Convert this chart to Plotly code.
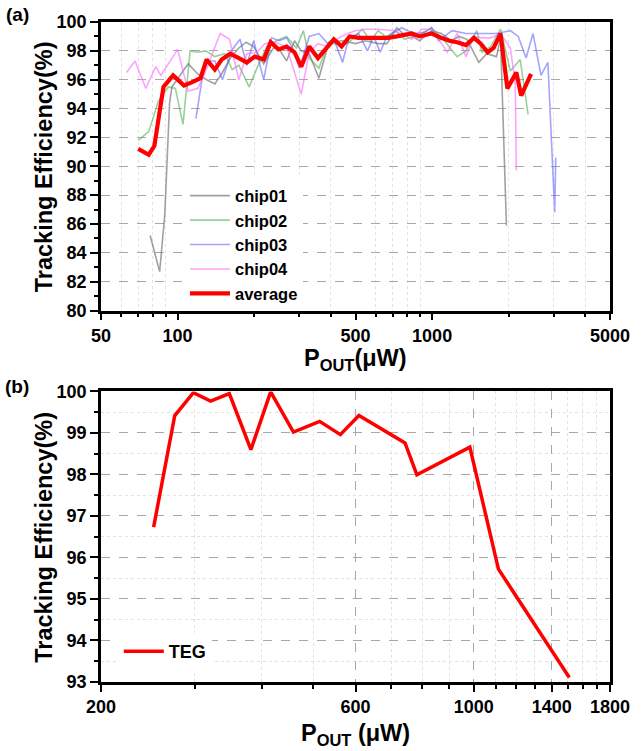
import math
import plotly.graph_objects as go

# ---------------- data: panel (a) ----------------
AVG_X = [70, 77, 81, 88, 96, 106, 113, 123, 130, 140, 149, 161, 174, 187, 201, 218, 232, 249, 268, 288,
         306, 329, 356, 379, 411, 441, 474, 514, 561, 614, 671, 727, 767, 832, 893, 995, 1087, 1168, 1254,
         1359, 1459, 1553, 1653, 1744, 1857, 1976, 2142, 2239, 2448]
AVG_Y = [91.2, 90.8, 91.4, 95.5, 96.3, 95.6, 95.8, 96.1, 97.4, 96.7, 97.4, 97.8, 97.5, 97.2, 97.6, 97.4,
         98.6, 98.1, 98.3, 97.9, 96.9, 98.3, 97.5, 98.1, 98.8, 98.3, 99.0, 98.9, 98.9, 98.9, 98.9, 99.0,
         99.1, 99.2, 99.0, 99.2, 98.9, 98.7, 98.6, 98.4, 98.9, 98.5, 97.9, 98.2, 99.2, 95.4, 96.5, 94.9, 96.4]

C1_X = [78, 85, 89, 93, 95, 110, 120, 130, 140, 150, 161, 174, 186, 199, 218, 238, 249, 268, 288, 306,
        329, 359, 393, 445, 500, 547, 614, 665, 727, 767, 802, 893, 995, 1087, 1189, 1276, 1371, 1526,
        1639, 1791, 1857, 1959]
C1_Y = [85.2, 82.7, 86.6, 94.4, 95.5, 97.1, 96.4, 96.0, 95.7, 96.5, 97.5, 98.2, 98.6, 98.3, 97.1, 98.2,
        98.2, 97.3, 98.7, 98.0, 97.8, 96.1, 98.6, 98.7, 98.5, 98.7, 98.5, 98.5, 99.6, 99.2, 99.2, 98.7,
        99.4, 99.2, 98.7, 99.0, 98.8, 97.2, 97.8, 97.6, 98.9, 85.9]

C2_X = [70, 77, 84, 92, 98, 105, 112, 120, 129, 140, 153, 164, 174, 191, 205, 224, 245, 268, 293, 312,
        329, 359, 389, 430, 466, 532, 572, 614, 665, 714, 781, 909, 995, 1117, 1254, 1359, 1499, 1568,
        1698, 1857, 2030, 2219, 2383]
C2_Y = [91.8, 92.4, 94.5, 95.5, 95.4, 92.9, 98.0, 97.9, 98.0, 97.6, 97.8, 96.7, 97.0, 95.5, 96.8, 98.3,
        98.7, 99.0, 98.2, 99.4, 97.5, 96.8, 98.5, 98.5, 98.5, 99.5, 98.7, 99.4, 98.9, 99.4, 98.8, 99.2,
        99.6, 98.7, 97.6, 98.0, 99.4, 97.9, 98.3, 99.5, 96.6, 97.4, 93.6]

C3_X = [118, 128, 140, 150, 164, 176, 187, 199, 218, 234, 251, 268, 285, 301, 329, 359, 389, 411, 445,
        470, 514, 557, 590, 625, 665, 696, 760, 802, 860, 940, 995, 1060, 1199, 1359, 1596, 1791, 2030,
        2180, 2341, 2492, 2678, 2850, 3033, 3060]
C3_Y = [93.3, 97.3, 97.3, 96.0, 98.1, 98.8, 97.0, 98.7, 96.0, 98.9, 98.7, 98.9, 98.1, 96.8, 99.0, 99.2,
        98.5, 98.8, 97.2, 98.9, 99.2, 98.0, 99.0, 97.9, 99.0, 99.2, 99.6, 99.4, 99.2, 99.3, 99.6, 98.7,
        99.4, 99.2, 99.2, 99.2, 99.4, 99.0, 97.5, 99.2, 96.3, 97.2, 86.8, 90.6]

C4_X = [63, 68, 75, 82, 86, 100, 110, 120, 129, 147, 160, 174, 187, 205, 220, 241, 268, 285, 306, 329,
        356, 389, 430, 466, 500, 547, 614, 714, 832, 909, 1000, 1147, 1254, 1359, 1459, 1568, 1698, 1857,
        2030, 2122, 2142]
C4_Y = [96.5, 97.3, 95.4, 96.9, 96.3, 98.1, 95.2, 95.4, 96.6, 99.2, 98.8, 96.0, 97.8, 97.9, 98.5, 98.6,
        98.3, 96.7, 95.0, 97.9, 98.5, 98.3, 98.9, 99.2, 99.4, 99.5, 99.5, 99.4, 98.8, 99.5, 99.5, 97.9,
        99.2, 97.6, 99.0, 98.9, 98.9, 99.2, 98.2, 95.7, 89.7]

# ---------------- data: panel (b) ----------------
TEG_X = [251, 275, 298, 321, 348, 382, 416, 459, 514, 562, 609, 743, 782, 841, 983, 1112, 1510]
TEG_Y = [96.73, 99.42, 99.97, 99.77, 99.95, 98.60, 99.99, 99.02, 99.28, 98.96, 99.42, 98.76, 97.99,
         98.21, 98.66, 95.72, 93.11]

# ---------------- ticks ----------------
XA_TICKS = [50, 100, 500, 1000, 5000]
XA_MAJOR_GRID = [100, 1000]
XA_MINOR = [60, 70, 80, 90, 200, 300, 400, 600, 700, 800, 900, 2000, 3000, 4000]
XB_TICKS = [200, 600, 1000, 1400, 1800]
XB_MINOR = [300, 400, 500, 700, 800, 900, 1100, 1200, 1300, 1500, 1600, 1700]

FONT = "Liberation Sans, Arial, sans-serif"
TICKFONT = dict(family=FONT, size=18, color="black", weight="bold")

fig = go.Figure()

series = [
    ("chip01", C1_X, C1_Y, "rgba(110,110,110,0.65)"),
    ("chip02", C2_X, C2_Y, "rgba(70,170,70,0.55)"),
    ("chip03", C3_X, C3_Y, "rgba(90,90,255,0.55)"),
    ("chip04", C4_X, C4_Y, "rgba(255,100,255,0.6)"),
]
for name, xs, ys, col in series:
    fig.add_trace(go.Scatter(x=xs, y=ys, mode="lines", name=name, xaxis="x", yaxis="y",
                             line=dict(color=col, width=1.6), legend="legend"))
fig.add_trace(go.Scatter(x=AVG_X, y=AVG_Y, mode="lines", name="average", xaxis="x", yaxis="y",
                         line=dict(color="#ff0000", width=4.2), legend="legend"))
fig.add_trace(go.Scatter(x=TEG_X, y=TEG_Y, mode="lines", name="TEG", xaxis="x2", yaxis="y2",
                         line=dict(color="#ff0000", width=3.5), legend="legend2"))

TOP_DOM = [0.5628, 1.0]
BOT_DOM = [0.0, 0.4402]

axis_common = dict(showline=True, linewidth=2.5, linecolor="black", mirror=True,
                   ticks="outside", tickwidth=2, tickcolor="black", zeroline=False,
                   tickfont=TICKFONT)

fig.update_layout(
    width=642, height=751,
    margin=dict(l=101, r=25, t=21, b=69),
    paper_bgcolor="white", plot_bgcolor="white",
    showlegend=True,
    xaxis=dict(domain=[0, 1], anchor="y", type="log",
               range=[math.log10(50), math.log10(5000)],
               tickmode="array", tickvals=XA_TICKS, ticktext=[str(v) for v in XA_TICKS],
               ticklen=7, showgrid=False,
               minor=dict(tickmode="array", tickvals=XA_MINOR, ticks="outside", ticklen=4,
                          tickwidth=1.5, tickcolor="black", showgrid=True,
                          gridcolor="#e2e2e2", griddash="dot", gridwidth=1),
               **axis_common),
    xaxis3=dict(overlaying="x", anchor="y", type="log",
                range=[math.log10(50), math.log10(5000)],
                tickmode="array", tickvals=XA_MAJOR_GRID, showticklabels=False,
                ticks="outside", ticklen=8, tickwidth=2, tickcolor="black",
                showgrid=True, gridcolor="#a8a8a8", griddash="dash", gridwidth=1,
                showline=False, zeroline=False),
    yaxis=dict(domain=TOP_DOM, anchor="x", range=[80, 100], tickmode="linear", tick0=80, dtick=2,
               ticklen=8, showgrid=True, gridcolor="#a8a8a8", griddash="dash", gridwidth=1,
               minor=dict(dtick=1, ticks="outside", ticklen=4, tickwidth=1.5, tickcolor="black",
                          showgrid=False),
               **axis_common),
    xaxis2=dict(domain=[0, 1], anchor="y2", type="log",
                range=[math.log10(200), math.log10(1800)],
                tickmode="array", tickvals=XB_TICKS, ticktext=[str(v) for v in XB_TICKS],
                ticklen=7, showgrid=True, gridcolor="#a8a8a8", griddash="dash", gridwidth=1,
                minor=dict(tickmode="array", tickvals=XB_MINOR, ticks="outside", ticklen=4,
                           tickwidth=1.5, tickcolor="black", showgrid=True,
                           gridcolor="#e2e2e2", griddash="dot", gridwidth=1),
                **axis_common),
    yaxis2=dict(domain=BOT_DOM, anchor="x2", range=[93, 100], tickmode="linear", tick0=93, dtick=1,
                ticklen=8, showgrid=True, gridcolor="#a8a8a8", griddash="dash", gridwidth=1,
                minor=dict(dtick=0.5, ticks="outside", ticklen=4, tickwidth=1.5, tickcolor="black",
                           showgrid=True, gridcolor="#e2e2e2", griddash="dot", gridwidth=1),
                **axis_common),
    legend=dict(x=0.165, y=0.763, xanchor="left", yanchor="top", bgcolor="white",
                borderwidth=0, tracegroupgap=0, itemwidth=40,
                font=dict(family=FONT, size=16.5, color="black", weight="bold")),
    legend2=dict(x=0.035, y=0.074, xanchor="left", yanchor="top", bgcolor="white",
                 borderwidth=0, itemwidth=40,
                 font=dict(family=FONT, size=18, color="black", weight="bold")),
)

title_font = dict(family=FONT, size=23.5, color="black")
ann = [
    dict(text="<b>Tracking Efficiency(%)</b>", x=-0.112, y=sum(TOP_DOM) / 2, textangle=-90),
    dict(text="<b>Tracking Efficiency(%)</b>", x=-0.112, y=sum(BOT_DOM) / 2, textangle=-90),
    dict(text="<b>P<sub>OUT</sub>(μW)</b>", x=0.5, y=0.488),
    dict(text="<b>P<sub>OUT</sub> (μW)</b>", x=0.5, y=-0.080),
]
for a in ann:
    fig.add_annotation(xref="paper", yref="paper", showarrow=False, xanchor="center",
                       yanchor="middle", font=title_font, **a)
for lbl, yy in [("(a)", 1.012), ("(b)", 0.448)]:
    fig.add_annotation(text=f"<b>{lbl}</b>", xref="paper", yref="paper", x=-0.165, y=yy,
                       showarrow=False, xanchor="center", yanchor="middle",
                       font=dict(family=FONT, size=19, color="black"))

fig.write_html("out.html", config={"displayModeBar": False},
               post_script="document.body.style.margin='0px';")
